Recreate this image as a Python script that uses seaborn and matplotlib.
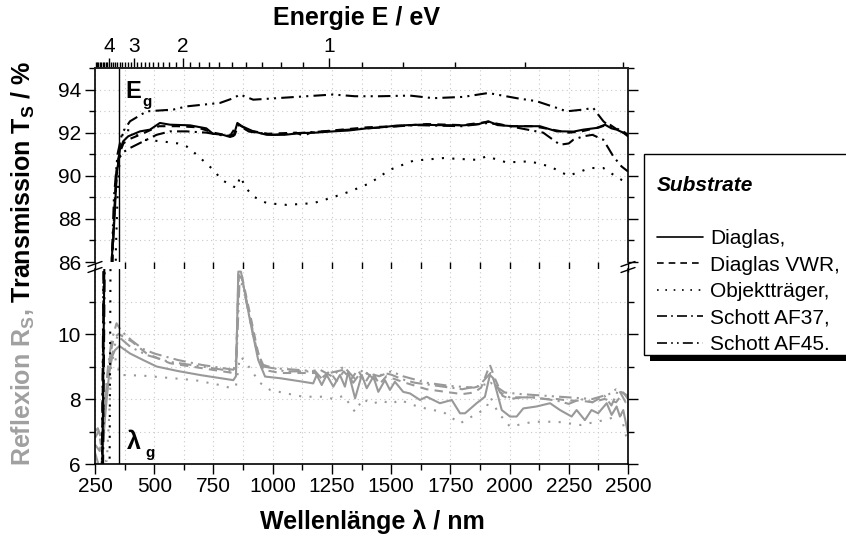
import numpy as np
import pandas as pd
import matplotlib
matplotlib.use("Agg")
import matplotlib.pyplot as plt
import seaborn as sns
from matplotlib.lines import Line2D
from matplotlib.patches import Rectangle
from matplotlib.ticker import MultipleLocator, FixedLocator, FixedFormatter

# ---------------- data ----------------
names = ["Diaglas,", "Diaglas VWR,", "Objektträger,", "Schott AF37,", "Schott AF45."]

# Transmission T_S / %
t_diaglas_x = [250, 270, 280, 292, 305, 315, 320, 327, 334, 341, 355, 369, 390, 440, 482, 524, 567, 651, 720, 748, 790, 820, 835, 851, 870, 918, 975, 1050, 1115, 1180, 1255, 1320, 1397, 1460, 1524, 1622, 1700, 1805, 1870, 1910, 1950, 2016, 2128, 2199, 2227, 2270, 2311, 2368, 2403, 2430, 2452, 2480, 2500]
t_diaglas_y = [0.0, 0.5, 5.0, 14.0, 45.0, 75.0, 86.1, 87.0, 88.4, 90.0, 91.2, 91.6, 91.83, 92.06, 92.14, 92.45, 92.37, 92.34, 92.2, 91.95, 91.9, 91.8, 91.85, 92.45, 92.3, 92.06, 91.9, 91.9, 91.98, 92.0, 92.06, 92.1, 92.2, 92.25, 92.33, 92.37, 92.35, 92.34, 92.4, 92.53, 92.35, 92.3, 92.3, 92.06, 92.06, 92.05, 92.14, 92.22, 92.37, 92.2, 92.14, 92.0, 91.83]

t_vwr_x = [250, 278, 290, 318, 323, 332, 340, 352, 370, 395, 450, 520, 600, 680, 750, 820, 852, 900, 980, 1100, 1130, 1160, 1250, 1400, 1520, 1650, 1800, 1910, 2000, 2100, 2200, 2250, 2300, 2380, 2420, 2460, 2500]
t_vwr_y = [0.0, 4.0, 15.0, 84.0, 86.5, 88.5, 90.2, 91.0, 91.5, 91.7, 91.95, 92.3, 92.3, 92.25, 92.0, 91.85, 92.4, 92.1, 91.95, 92.0, 91.85, 92.0, 92.1, 92.25, 92.3, 92.4, 92.35, 92.5, 92.3, 92.3, 92.1, 92.0, 92.05, 92.25, 92.4, 92.1, 91.9]

t_obj_x = [250, 300, 311, 316, 330, 338, 345, 355, 369, 400, 454, 530, 600, 637, 679, 749, 785, 834, 850, 862, 890, 918, 975, 1059, 1172, 1242, 1326, 1411, 1495, 1594, 1720, 1861, 1903, 1987, 2086, 2171, 2248, 2300, 2339, 2396, 2438, 2473, 2500]
t_obj_y = [0.0, 0.5, 5.0, 13.0, 70.0, 86.5, 89.0, 91.0, 92.14, 92.1, 91.67, 91.6, 91.5, 91.36, 90.98, 90.28, 89.81, 89.5, 89.45, 89.97, 89.4, 89.04, 88.73, 88.65, 88.73, 88.96, 89.27, 89.66, 90.28, 90.7, 90.82, 90.74, 90.9, 90.62, 90.67, 90.43, 90.0, 90.2, 90.36, 90.36, 90.05, 89.81, 89.7]

t_af37_x = [250, 282, 294, 322, 328, 338, 350, 370, 398, 440, 510, 567, 637, 721, 800, 840, 855, 900, 1000, 1200, 1400, 1600, 1800, 1910, 2000, 2142, 2213, 2250, 2269, 2311, 2350, 2396, 2438, 2473, 2500]
t_af37_y = [0.0, 4.0, 15.0, 85.0, 87.5, 89.5, 90.8, 91.1, 91.29, 91.52, 91.9, 92.06, 92.06, 92.0, 91.85, 91.9, 92.35, 92.05, 91.9, 92.05, 92.2, 92.35, 92.3, 92.45, 92.3, 92.0, 91.44, 91.5, 91.67, 91.83, 91.9, 91.67, 90.9, 90.43, 90.2]

t_af45_x = [250, 276, 288, 316, 322, 330, 345, 365, 398, 468, 580, 637, 778, 834, 862, 918, 1017, 1143, 1255, 1347, 1453, 1580, 1678, 1805, 1910, 2030, 2114, 2199, 2241, 2311, 2353, 2374, 2396, 2420, 2450, 2480, 2500]
t_af45_y = [0.0, 3.0, 14.0, 84.0, 86.5, 89.0, 91.0, 92.0, 92.53, 92.99, 93.07, 93.22, 93.38, 93.6, 93.77, 93.53, 93.6, 93.69, 93.77, 93.69, 93.69, 93.72, 93.6, 93.66, 93.84, 93.6, 93.46, 93.15, 92.99, 93.07, 93.15, 92.84, 92.53, 92.3, 92.2, 92.06, 91.9]

# Reflection R_S / %
r_diaglas_x = [250, 262, 272, 280, 285, 292, 299, 310, 322, 334, 353, 398, 453, 510, 600, 700, 834, 845, 855, 866, 904, 939, 968, 1031, 1129, 1171, 1186, 1207, 1228, 1256, 1284, 1305, 1319, 1348, 1376, 1397, 1425, 1446, 1474, 1495, 1516, 1551, 1580, 1622, 1650, 1706, 1756, 1791, 1812, 1861, 1896, 1917, 1931, 1967, 2002, 2030, 2058, 2114, 2171, 2213, 2262, 2283, 2318, 2346, 2374, 2410, 2431, 2452, 2466, 2480, 2500]
r_diaglas_y = [6.35, 6.05, 5.85, 6.15, 6.7, 7.4, 7.97, 8.8, 9.3, 9.5, 9.63, 9.4, 9.2, 9.0, 8.86, 8.73, 8.58, 8.7, 11.92, 11.92, 10.43, 9.2, 8.69, 8.64, 8.53, 8.48, 8.74, 8.43, 8.74, 8.38, 8.74, 8.38, 8.84, 8.02, 8.74, 8.33, 8.69, 8.22, 8.58, 8.28, 8.53, 8.22, 8.17, 7.97, 8.07, 7.87, 7.97, 7.56, 7.56, 7.87, 8.07, 8.74, 8.64, 7.66, 7.46, 7.46, 7.71, 7.77, 7.87, 7.66, 7.46, 7.66, 7.35, 7.66, 7.56, 7.87, 7.51, 7.77, 7.46, 7.66, 6.94]

r_vwr_x = [250, 265, 275, 285, 300, 315, 330, 350, 405, 468, 567, 700, 834, 845, 856, 868, 905, 939, 961, 1031, 1129, 1180, 1200, 1240, 1270, 1300, 1330, 1360, 1390, 1420, 1450, 1480, 1520, 1560, 1650, 1750, 1800, 1850, 1880, 1917, 1940, 1970, 2000, 2050, 2100, 2150, 2200, 2250, 2300, 2350, 2400, 2450, 2480, 2500]
r_vwr_y = [6.8, 7.0, 6.6, 7.2, 8.5, 9.4, 9.9, 10.0, 9.77, 9.4, 9.1, 8.95, 8.8, 8.9, 11.9, 11.85, 10.6, 9.4, 8.9, 8.8, 8.8, 8.8, 8.6, 8.85, 8.55, 8.85, 8.6, 8.9, 8.5, 8.85, 8.45, 8.7, 8.6, 8.5, 8.3, 8.2, 8.15, 8.2, 8.35, 9.05, 8.6, 8.1, 8.0, 8.05, 8.05, 8.0, 8.0, 7.95, 7.95, 7.9, 8.0, 7.9, 8.2, 8.0]

r_obj_x = [250, 300, 310, 318, 330, 355, 450, 560, 672, 777, 827, 845, 862, 880, 946, 989, 1059, 1129, 1207, 1260, 1300, 1348, 1380, 1420, 1460, 1500, 1537, 1600, 1650, 1720, 1791, 1850, 1900, 1920, 1950, 2002, 2100, 2200, 2300, 2400, 2470, 2494, 2500]
r_obj_y = [6.0, 6.1, 7.5, 9.0, 9.4, 8.74, 8.72, 8.65, 8.58, 8.43, 8.33, 8.4, 9.3, 9.2, 8.5, 8.28, 8.17, 8.07, 8.07, 8.0, 8.1, 7.6, 8.0, 7.85, 7.95, 7.85, 7.97, 7.8, 7.7, 7.6, 7.25, 7.5, 7.7, 8.05, 7.6, 7.15, 7.3, 7.3, 7.2, 7.35, 7.5, 6.8, 6.7]

r_af37_x = [250, 262, 275, 290, 305, 320, 341, 360, 405, 450, 500, 600, 700, 834, 845, 857, 870, 905, 930, 960, 1000, 1100, 1180, 1210, 1240, 1300, 1340, 1380, 1430, 1470, 1500, 1550, 1600, 1700, 1800, 1870, 1920, 1960, 2000, 2100, 2200, 2250, 2300, 2350, 2400, 2430, 2460, 2490, 2500]
r_af37_y = [7.0, 7.1, 6.8, 7.8, 9.0, 9.8, 10.33, 10.1, 9.8, 9.55, 9.4, 9.2, 9.05, 8.9, 9.0, 11.8, 11.7, 10.5, 9.6, 9.0, 8.95, 8.9, 8.85, 8.6, 8.8, 8.9, 8.5, 8.9, 8.6, 8.8, 8.75, 8.6, 8.5, 8.4, 8.3, 8.4, 8.8, 8.2, 8.05, 8.05, 7.95, 7.85, 8.0, 7.9, 8.1, 7.8, 8.3, 7.9, 8.1]

r_af45_x = [250, 270, 285, 300, 320, 345, 400, 470, 560, 700, 834, 848, 860, 875, 905, 935, 960, 1050, 1150, 1200, 1250, 1300, 1350, 1400, 1450, 1500, 1550, 1650, 1750, 1850, 1920, 1980, 2050, 2150, 2250, 2350, 2420, 2450, 2500]
r_af45_y = [6.6, 6.4, 7.0, 8.2, 9.3, 9.95, 9.6, 9.35, 9.15, 9.0, 8.85, 9.3, 11.6, 11.5, 10.4, 9.45, 9.05, 8.85, 8.85, 8.9, 8.7, 9.0, 8.6, 8.8, 8.7, 8.85, 8.7, 8.5, 8.4, 8.35, 8.5, 8.2, 8.15, 8.1, 8.05, 8.0, 8.15, 8.3, 8.1]

lambda_gap = 350
energy_major = [4, 3, 2, 1]
energy_minor = [round(e, 1) for e in np.arange(0.5, 5.0, 0.1)]

# ---------------- style ----------------
sns.set_style("ticks")
plt.rcParams["font.family"] = ["Liberation Sans", "DejaVu Sans"]
plt.rcParams["mathtext.fontset"] = "custom"
plt.rcParams["mathtext.rm"] = "Liberation Sans"
plt.rcParams["mathtext.bf"] = "Liberation Sans:bold"
plt.rcParams["mathtext.it"] = "Liberation Sans:italic"
plt.rcParams["text.color"] = "black"
plt.rcParams["axes.labelcolor"] = "black"

GRAY = "#999999"
styles = ["-", (0, (4, 3)), (0, (1, 4)), (0, (6, 2.5, 1, 2.5)), (0, (6, 2.5, 1, 2.5, 1, 2.5))]
T_series = [(t_diaglas_x, t_diaglas_y), (t_vwr_x, t_vwr_y), (t_obj_x, t_obj_y), (t_af37_x, t_af37_y), (t_af45_x, t_af45_y)]
R_series = [(r_diaglas_x, r_diaglas_y), (r_vwr_x, r_vwr_y), (r_obj_x, r_obj_y), (r_af37_x, r_af37_y), (r_af45_x, r_af45_y)]

W, H = 846, 541
fig = plt.figure(figsize=(W / 100, H / 100), dpi=100)
fx = lambda px: px / W
fy = lambda py: 1 - py / H

ax_t = fig.add_axes([fx(95), fy(262), fx(628) - fx(95), fy(68) - fy(262)])
ax_b = fig.add_axes([fx(95), fy(464), fx(628) - fx(95), fy(269) - fy(464)])

for ax in (ax_t, ax_b):
    for (x, y), ls in zip(R_series, styles):
        sns.lineplot(x=x, y=y, ax=ax, color=GRAY, linestyle=ls, linewidth=1.5,
                     estimator=None, sort=False, legend=False)
    for (x, y), ls in zip(T_series, styles):
        sns.lineplot(x=x, y=y, ax=ax, color="black", linestyle=ls, linewidth=1.5,
                     estimator=None, sort=False, legend=False)
    ax.axvline(lambda_gap, color="black", lw=1.0)
    ax.set_xlim(250, 2500)
    ax.set_xlabel("")
    ax.set_ylabel("")
    ax.set_axisbelow(True)
    for s in ax.spines.values():
        s.set_linewidth(1.2)
        s.set_color("black")
    ax.grid(True, which="both", color="#c8c8c8", linestyle=(0, (1, 3)), linewidth=0.8)
    ax.tick_params(which="both", direction="out", width=1.0, colors="black",
                   labelsize=15, left=True, right=True)
    ax.tick_params(which="major", length=7)
    ax.tick_params(which="minor", length=4)
    ax.tick_params(axis="y", which="both", labelright=False, pad=3)

# top panel (transmission)
ax_t.set_ylim(86, 95)
ax_t.yaxis.set_major_locator(MultipleLocator(2))
ax_t.yaxis.set_minor_locator(MultipleLocator(1))
ax_t.set_xticks(np.arange(250, 2501, 125))
ax_t.tick_params(axis="x", which="both", bottom=False, labelbottom=False, top=False)
ax_t.spines["bottom"].set_visible(False)

# bottom panel (reflection)
ax_b.set_ylim(6, 12)
ax_b.yaxis.set_major_locator(FixedLocator([6, 8, 10]))
ax_b.yaxis.set_minor_locator(FixedLocator([7, 9, 11]))
ax_b.xaxis.set_major_locator(MultipleLocator(250))
ax_b.xaxis.set_minor_locator(MultipleLocator(125))
ax_b.tick_params(axis="x", which="both", top=False, pad=2)
ax_b.spines["top"].set_visible(False)

# energy axis on top
axE = ax_t.twiny()
axE.set_xlim(250, 2500)
axE.xaxis.set_major_locator(FixedLocator([1239.84 / e for e in energy_major]))
axE.xaxis.set_major_formatter(FixedFormatter([str(e) for e in energy_major]))
axE.xaxis.set_minor_locator(FixedLocator([1239.84 / e for e in energy_minor
                                           if e not in energy_major and 1239.84 / e >= 250]))
axE.tick_params(axis="x", which="both", direction="out", colors="black", labelsize=15, width=1.0, pad=2)
axE.tick_params(axis="x", which="major", length=7)
axE.tick_params(axis="x", which="minor", length=4)
axE.grid(False)
for k, s in axE.spines.items():
    s.set_visible(k == "top")
    s.set_linewidth(1.2)

# break marks
for px in (95, 628):
    for py in (264, 270):
        fig.add_artist(Line2D([fx(px - 7), fx(px + 7)], [fy(py + 2.5), fy(py - 2.5)],
                              color="black", lw=1.0, transform=fig.transFigure))

# annotations (E_g, lambda_g)
ax_t.text(377, 93.63, "E", fontsize=17, fontweight="bold", ha="left", va="baseline")
ax_t.text(448, 93.25, "g", fontsize=11, fontweight="bold", ha="left", va="baseline")
ax_b.text(385, 6.45, "λ", fontsize=18, fontweight="bold", ha="left", va="baseline")
ax_b.text(462, 6.22, "g", fontsize=11, fontweight="bold", ha="left", va="baseline")

# axis titles
fig.text(fx(356), fy(18), "Energie E / eV", fontsize=18, fontweight="bold", ha="center", va="center")
fig.text(fx(372), fy(522), "Wellenlänge λ / nm", fontsize=18, fontweight="bold", ha="center", va="center")

yl1 = fig.text(fx(31), fy(466), r"Reflexion R$_\mathbf{S}$,", fontsize=18, fontweight="bold",
               color="#a0a0a0", rotation=90, rotation_mode="anchor", ha="left", va="baseline")
fig.canvas.draw()
bb = yl1.get_window_extent()
yl2 = fig.text(fx(31), (bb.y1 + 6) / H, r"Transmission T$_\mathbf{S}$ / %", fontsize=18,
               fontweight="bold", color="black", rotation=90, rotation_mode="anchor",
               ha="left", va="baseline")

# legend: frame + shadow drawn as patches, entries by matplotlib legend
fig.patches.append(Rectangle((fx(650), fy(361)), 1.0, 6 / H, transform=fig.transFigure,
                             facecolor="black", edgecolor="none", zorder=3))
fig.patches.append(Rectangle((fx(644), fy(355)), 1.0, (355 - 154) / H, transform=fig.transFigure,
                             facecolor="white", edgecolor="black", linewidth=1.0, zorder=4))
handles = [Line2D([], [], linestyle="none")] + [
    Line2D([0, 1], [0, 0], color="black", lw=1.2, linestyle=ls) for ls in styles]
labels = [" "] + names
leg = fig.legend(handles, labels, loc="upper left", bbox_to_anchor=(fx(653), fy(172)),
                 title="Substrate", title_fontproperties={"weight": "bold", "style": "italic", "size": 15},
                 fontsize=15, frameon=False, borderaxespad=0, handlelength=2.2,
                 handletextpad=0.35, labelspacing=0.36, borderpad=0.2, alignment="left")
leg.set_zorder(5)

fig.savefig("out.png", dpi=100)
